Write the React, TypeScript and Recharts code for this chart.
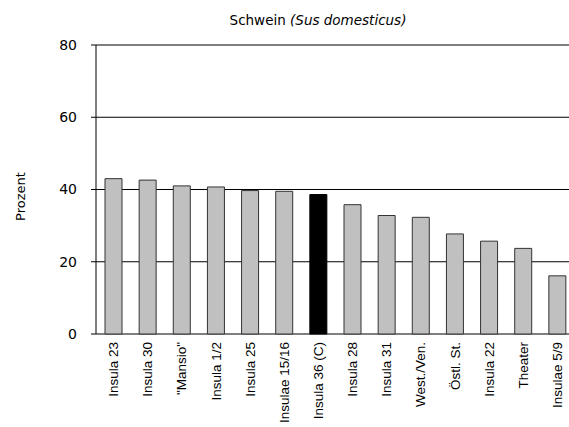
import { BarChart, Bar, Cell, XAxis, YAxis, CartesianGrid, Label } from "recharts"

const categories = [
    "Insula 23", "Insula 30", "\"Mansio\"", "Insula 1/2", "Insula 25", "Insulae 15/16", "Insula 36 (C)",
    "Insula 28", "Insula 31", "West./Ven.", "Östl. St.", "Insula 22", "Theater", "Insulae 5/9",
]
const values = [43.0, 42.6, 41.0, 40.7, 39.7, 39.5, 38.6, 35.8, 32.8, 32.3, 27.7, 25.7, 23.7, 16.1]
const highlighted = "Insula 36 (C)"
const yTicks = [0, 20, 40, 60, 80]
const boundaryTicks = categories.map((_, i) => i).concat(categories.length)

const data = categories.map((name, i) => ({ name, value: values[i], pos: i }))

const FONT = "'DejaVu Sans', sans-serif"

const XTick = (props: any) => {
    const { x, y, payload } = props
    return (
        <g transform={`translate(${x},${y})`}>
            <text
                transform="rotate(-90)"
                x={-3}
                y={0}
                dy={5}
                textAnchor="end"
                fontFamily="'Liberation Sans', Arial, sans-serif"
                fontSize={13.5}
                fill="#000"
            >
                {payload.value}
            </text>
        </g>
    )
}

// y-axis title, a little below the middle of the axis like the original
const YTitle = (props: any) => {
    const { viewBox } = props
    const cx = 20
    const cy = viewBox.y + viewBox.height / 2 + 7
    return (
        <text transform={`rotate(-90, ${cx}, ${cy})`} x={cx} y={cy} dy={5} textAnchor="middle" fontFamily={FONT} fontSize={13} fill="#000">
            Prozent
        </text>
    )
}

export default function App() {
    return (
        <div style={{ position: "absolute", left: 0, top: 0, width: 569, height: 427, overflow: "hidden", background: "#fff" }}>
            <div style={{ position: "absolute", left: 0, width: 636, top: 12, textAlign: "center", fontFamily: FONT, fontSize: 13.5, color: "#000" }}>
                Schwein <i>(Sus domesticus)</i>
            </div>
            <BarChart
                width={580}
                height={427}
                data={data}
                margin={{ top: 45, right: 6, bottom: 3, left: 10 }}
                barCategoryGap="25%"
            >
                <CartesianGrid horizontal vertical={false} stroke="#000" strokeWidth={1} />
                <XAxis
                    xAxisId="b"
                    type="number"
                    dataKey="pos"
                    domain={[0, categories.length]}
                    ticks={boundaryTicks}
                    tick={false}
                    tickSize={5}
                    height={0}
                    axisLine={{ stroke: "#000" }}
                    tickLine={{ stroke: "#000" }}
                />
                <XAxis
                    dataKey="name"
                    interval={0}
                    tick={<XTick />}
                    tickLine={false}
                    axisLine={false}
                    tickMargin={0}
                    tickSize={5}
                    height={90}
                />
                <YAxis
                    domain={[0, 80]}
                    ticks={yTicks}
                    width={86}
                    tickSize={5}
                    tickMargin={14}
                    tick={{ fill: "#000", fontFamily: FONT, fontSize: 14 }}
                    axisLine={{ stroke: "#000" }}
                    tickLine={{ stroke: "#000" }}
                >
                    <Label content={<YTitle />} />
                </YAxis>
                <Bar dataKey="value" isAnimationActive={false} stroke="#333" strokeWidth={1} barSize={17}>
                    {data.map((d) => (
                        <Cell key={d.name} fill={d.name === highlighted ? "#000" : "#c0c0c0"} stroke={d.name === highlighted ? "#000" : "#333"} />
                    ))}
                </Bar>
            </BarChart>
        </div>
    )
}
